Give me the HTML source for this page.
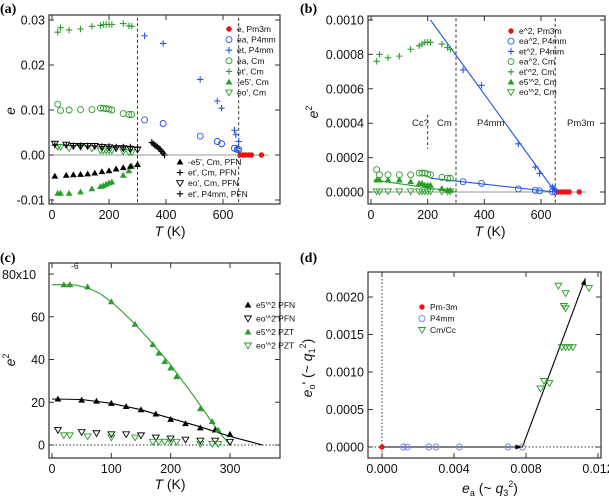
<!DOCTYPE html>
<html><head><meta charset="utf-8">
<style>
body{margin:0;background:#fff;}
svg{display:block;font-family:"Liberation Sans",sans-serif;}
.pl{font-family:"Liberation Serif",serif;font-weight:bold;font-size:14px;}
</style></head>
<body>
<svg id="s" width="609" height="500" viewBox="0 0 609 500"></svg>
<script>
// ---------- Panel (a) data ----------
const aPm3mT=[660,670,680,690,700,735], aPm3mV=[0,0,0,0,0,0];
const aEaP4T=[325,390,520,580,595,640,650,655], aEaP4V=[0.0078,0.007,0.0042,0.003,0.0025,0.0015,0.0012,0.0012];
const aEtP4T=[325,390,520,580,595,640,645,655,650], aEtP4V=[0.0265,0.0248,0.0168,0.012,0.0104,0.0055,0.0045,0.003,0.0015];
const cmT=[20,30,60,100,140,170,180,190,200,210,250,270,280];
const aEaCmV=[0.0113,0.0099,0.01,0.0101,0.0101,0.0104,0.0104,0.0103,0.0102,0.01,0.0092,0.009,0.009];
const aEtCmV=[0.0273,0.0283,0.0278,0.028,0.0286,0.0288,0.029,0.029,0.029,0.029,0.0292,0.0287,0.0286];
const aE5CmV=[-0.0085,-0.0085,-0.0085,-0.0082,-0.0075,-0.007,-0.0068,-0.0065,-0.0062,-0.006,-0.0045,-0.0035,-0.0025];
const aEoCmV=[0.0018,0.0018,0.0015,0.0018,0.0015,0.001,0.001,0.001,0.001,0.001,0.0008,0.0006,0.0006];
const pfnT=[10,50,75,100,125,150,175,200,225,250,275,300];
const aE5PfnV=[-0.0047,-0.0045,-0.0044,-0.0043,-0.0042,-0.004,-0.0037,-0.0035,-0.0031,-0.0028,-0.0025,-0.0021];
const aEoPfnV=[0.0025,0.0023,0.002,0.002,0.002,0.002,0.0018,0.0017,0.0015,0.0015,0.0014,0.0012];
const aEtPfnV=[0.0022,0.0022,0.0021,0.0021,0.002,0.002,0.0019,0.0019,0.0018,0.0018,0.0018,0.0017];
const aEtP4PfnT=[350,355,360,365,370,375,380,385,390,395], aEtP4PfnV=[0.0028,0.0025,0.0022,0.002,0.0018,0.0015,0.0012,0.0008,0.0004,0];
// ---------- Panel (b) data ----------
const bEaP4T=[325,390,520,580,595,640,650], bEaP4V=[0.00006,0.00005,0.000018,0.00001,0.000007,0.000002,0.0000015];
const bEtP4T=[325,390,520,580,595,640,645,650], bEtP4V=[0.00071,0.00062,0.00028,0.000145,0.000108,0.00003,0.00002,0.00001];
const bEaCmV=[0.00013,0.0001,0.0001,0.0001,0.0001,0.00011,0.00011,0.00011,0.000105,0.0001,0.000085,0.00008,0.00008];
const bEtCmV=[0.00076,0.0008,0.00078,0.00079,0.00083,0.00085,0.00086,0.00087,0.00087,0.00087,0.00086,0.00084,0.00083];
const bE5CmV=[0.00007,0.00007,0.00007,0.00007,0.00006,0.00005,0.00005,0.00004,0.00004,0.00004,0.00002,0.00001,0.00001];
const bEoCmV=[0.000003,0.000003,0.000003,0.000003,0.000003,0.000003,0.000003,0.000003,0.000003,0.000003,0.000003,0.000003,0.000003];
const bFitEtT=[210,650], bFitEtV=[0.001,0];
const bFitEaT=[210,650], bFitEaV=[0.00008,0];
const bFitE5T=[10,300], bFitE5V=[0.00007,0];
// ---------- Panel (c) data (x1e-6) ----------
const cPztT=[20,30,60,100,140,170,180,190,200,210,250,270,280];
const cE5PztV=[75,75,74,67,56.5,47,43,39,36,32,17,11,7];
const cEoPztV=[4.5,4.5,4,3.5,3.5,1.5,1.5,1.5,1.5,1.5,0.5,0.5,0.5];
const cPfnT=[10,50,75,100,125,150,175,200,225,250,275,300];
const cE5PfnV=[21.5,21,20.5,19.5,18,16.5,14.5,12,10,8,7,5];
const cEoPfnV=[7,6,5.5,5,5,4.5,3.5,3,2.5,2,2,1.5];
const cFitPztT=[0,20,40,60,80,100,120,140,160,180,200,220,240,260,280,300];
const cFitPztV=[75,75,74.8,73.5,71,67,62,56.5,50.5,44,37.5,30,22.5,14.5,6.5,0];
const cFitPfnT=[0,50,100,150,200,250,300,355];
const cFitPfnV=[21.5,21.3,19.5,16.5,12.5,8.5,4,0];
// ---------- Panel (d) data ----------
const dPmX=[0], dPmY=[0];
const dP4X=[0.0012,0.0014,0.0026,0.003,0.0043,0.007,0.0078], dP4Y=[0,0,0,0,0,0,0];
const dCmX=[0.0098,0.0102,0.0101,0.0102,0.01,0.0102,0.0104,0.0106,0.009,0.0088,0.0093,0.0115];
const dCmY=[0.00215,0.00205,0.00188,0.00185,0.00133,0.00133,0.00133,0.00133,0.00088,0.00078,0.00085,0.00212];
const dArrowX=[0,0.0078,0.0113], dArrowY=[0,0,0.00225];

const S=document.getElementById('s');
const NS='http://www.w3.org/2000/svg';
function el(tag,at,parent){const e=document.createElementNS(NS,tag);for(const k in at)e.setAttribute(k,at[k]);(parent||S).appendChild(e);return e;}
function txt(x,y,s,at,parent){const e=el('text',Object.assign({x:x,y:y},at),parent);e.textContent=s;return e;}
function mk(g,type,x,y,c){
  let e;
  if(type==='fc')e=el('circle',{cx:x,cy:y,r:2.7,fill:c},g);
  else if(type==='oc')e=el('circle',{cx:x,cy:y,r:3,fill:'none',stroke:c,'stroke-width':0.9},g);
  else if(type==='pl')e=el('path',{d:`M${x-3.2},${y}h6.4M${x},${y-3.2}v6.4`,stroke:c,'stroke-width':1.1},g);
  else if(type==='tu')e=el('path',{d:`M${x},${y-3.4}L${x+3.4},${y+2.5}L${x-3.4},${y+2.5}Z`,fill:c},g);
  else e=el('path',{d:`M${x-3.4},${y-2.5}L${x+3.4},${y-2.5}L${x},${y+3.2}Z`,fill:'none',stroke:c,'stroke-width':0.9},g);
  return e;
}
function panel(P){
  const g=el('g',{});
  
  
  const X=v=>P.x0+(v-P.xa)*(P.x1-P.x0)/(P.xb-P.xa);
  const Y=v=>P.y0+(v-P.ya)*(P.y1-P.y0)/(P.yb-P.ya);
  P.X=X;P.Y=Y;
  const L=P.box[0],T=P.box[1],R=P.box[2],B=P.box[3];
  (P.guides||[]).forEach(f=>f(g,X,Y));
  P.xt.forEach((v,i)=>{const x=X(v);
    el('path',{d:`M${x},${B}v-5M${x},${T}v5`,stroke:'#333','stroke-width':1},g);
    const t=txt(x,B+15,P.xl[i],{'text-anchor':'middle','font-size':12.5,fill:'#111'},g);
    });
  P.yt.forEach((v,i)=>{const y=Y(v);
    el('path',{d:`M${L},${y}h5M${R},${y}h-5`,stroke:'#333','stroke-width':1},g);
    const t=txt(L-4,y+4.5,P.yl[i],{'text-anchor':'end','font-size':12.5,fill:'#111'},g);
    });
  (P.lines||[]).forEach(l=>{
    const d=l.x.map((v,i)=>(i?'L':'M')+X(v).toFixed(1)+','+Y(l.y[i]).toFixed(1)).join('');
    const p=el('path',{d:d,fill:'none',stroke:l.c,'stroke-width':1.1},g);
    
  });
  P.series.forEach(s=>{
    const sg=el('g',{},g);
    
    s.x.forEach((v,i)=>mk(sg,s.t,X(v),Y(s.y[i]),s.c));
  });
  const fr=el('rect',{x:L,y:T,width:R-L,height:B-T,fill:'none',stroke:'#333','stroke-width':1.2},g);
  
  (P.legends||[]).forEach(lg=>{
    lg.items.forEach((it,i)=>{
      const y=lg.y+i*lg.dy;
      const lgg=el('g',{},g);
      
      mk(lgg,it[0],lg.x,y,it[1]);
      txt(lg.x+8,y+3,it[2],{'font-size':lg.fs||8.5,fill:'#111'},lgg);
    });
  });
  return P;
}
function vdash(x,y1,y2){return (g,X,Y)=>el('path',{d:`M${X(x)},${Y(y1)}V${Y(y2)}`,stroke:'#333','stroke-width':1,'stroke-dasharray':'3,2.5'},g);}
function hline(y,x1,x2,st){return (g,X,Y)=>el('path',{d:`M${X(x1)},${Y(y)}H${X(x2)}`,stroke:st?'#333':'#999','stroke-width':1,'stroke-dasharray':st?'1.5,2':'none'},g);}
const G='#2a9d2a',BL='#2255ee',RD='#ee1111',BK='#000';

panel({name:'panel-a',box:[49,15,280,204],x0:52,x1:223,xa:0,xb:600,y0:155,y1:20,ya:0,yb:0.03,
 xt:[0,200,400,600],xl:['0','200','400','600'],
 yt:[-0.01,0,0.01,0.02,0.03],yl:['-0.01','0.00','0.01','0.02','0.03'],
 guides:[hline(0,-10,760),vdash(300,0.0305,-0.0109),vdash(655,0.0305,-0.0109)],
 series:[
  {n:'e-pm3m',t:'fc',c:RD,x:aPm3mT,y:aPm3mV},
  {n:'ea-p4mm',t:'oc',c:BL,x:aEaP4T,y:aEaP4V},
  {n:'et-p4mm',t:'pl',c:BL,x:aEtP4T,y:aEtP4V},
  {n:'ea-cm',t:'oc',c:G,x:cmT,y:aEaCmV},
  {n:'et-cm',t:'pl',c:G,x:cmT,y:aEtCmV},
  {n:'e5-cm',t:'tu',c:G,x:cmT,y:aE5CmV},
  {n:'eo-cm',t:'td',c:G,x:cmT,y:aEoCmV},
  {n:'e5-pfn',t:'tu',c:BK,x:pfnT,y:aE5PfnV},
  {n:'eo-pfn',t:'td',c:BK,x:pfnT,y:aEoPfnV},
  {n:'et-pfn',t:'pl',c:BK,x:pfnT,y:aEtPfnV},
  {n:'et-p4mm-pfn',t:'pl',c:BK,x:aEtP4PfnT,y:aEtP4PfnV}],
 legends:[{x:229,y:29,dy:10.6,items:[['fc',RD,'e, Pm3m'],['oc',BL,'ea, P4mm'],['pl',BL,'et, P4mm'],['oc',G,'ea, Cm'],['pl',G,'et\', Cm'],['tu',G,'-e5\', Cm'],['td',G,'eo\', Cm']]},
   {x:180,y:162,dy:10.6,items:[['tu',BK,'-e5\', Cm, PFN'],['pl',BK,'et\', Cm, PFN'],['td',BK,'eo\', Cm, PFN'],['pl',BK,'et\', P4mm, PFN']]}]
});
panel({name:'panel-b',box:[368,16,605,204],x0:371,x1:541,xa:0,xb:600,y0:192,y1:20,ya:0,yb:0.001,
 xt:[0,200,400,600],xl:['0','200','400','600'],
 yt:[0,0.0002,0.0004,0.0006,0.0008,0.001],yl:['0.0000','0.0002','0.0004','0.0006','0.0008','0.0010'],
 guides:[hline(0,-10,760),vdash(300,0.00101,-0.000068),vdash(650,0.00101,-0.000068),vdash(200,0.00045,0.00025)],
 lines:[{c:BL,x:bFitEtT,y:bFitEtV},{c:BL,x:bFitEaT,y:bFitEaV},{c:G,x:bFitE5T,y:bFitE5V}],
 series:[
  {n:'e2-pm3m',t:'fc',c:RD,x:aPm3mT,y:aPm3mV},
  {n:'ea2-p4mm',t:'oc',c:BL,x:bEaP4T,y:bEaP4V},
  {n:'et2-p4mm',t:'pl',c:BL,x:bEtP4T,y:bEtP4V},
  {n:'ea2-cm',t:'oc',c:G,x:cmT,y:bEaCmV},
  {n:'et2-cm',t:'pl',c:G,x:cmT,y:bEtCmV},
  {n:'e52-cm',t:'tu',c:G,x:cmT,y:bE5CmV},
  {n:'eo2-cm',t:'td',c:G,x:cmT,y:bEoCmV}],
 legends:[{x:511,y:31,dy:10.2,items:[['fc',RD,'e^2, Pm3m'],['oc',BL,'ea^2, P4mm'],['pl',BL,'et^2, P4mm'],['oc',G,'ea^2, Cm'],['pl',G,'et\'^2, Cm'],['tu',G,'e5\'^2, Cm'],['td',G,'eo\'^2, Cm']]}]
});
[['Cc?',412],['Cm',437],['P4mm',477],['Pm3m',567]].forEach(a=>{const t=txt(a[1],126,a[0],{'font-size':9.5,fill:'#222'});});
panel({name:'panel-c',box:[49,263,280,458],x0:52,x1:230,xa:0,xb:300,y0:445,y1:274,ya:0,yb:80,
 xt:[0,100,200,300],xl:['0','100','200','300'],
 yt:[0,20,40,60,80],yl:['0','20','40','60',''],
 guides:[hline(0,0,380,true)],
 lines:[{c:G,x:cFitPztT,y:cFitPztV},{c:BK,x:cFitPfnT,y:cFitPfnV}],
 series:[
  {n:'e52-pfn',t:'tu',c:BK,x:cPfnT,y:cE5PfnV},
  {n:'eo2-pfn',t:'td',c:BK,x:cPfnT,y:cEoPfnV},
  {n:'e52-pzt',t:'tu',c:G,x:cPztT,y:cE5PztV},
  {n:'eo2-pzt',t:'td',c:G,x:cPztT,y:cEoPztV}],
 legends:[{x:248,y:305,dy:13.5,items:[['tu',BK,'e5\'^2 PFN'],['td',BK,'eo\'^2 PFN'],['tu',G,'e5\'^2 PZT'],['td',G,'eo\'^2 PZT']]}]
});
{const t=txt(2,279,'80x10',{'font-size':12.5,fill:'#111'});
 const u=txt(71,269,'-6',{'font-size':8.5,fill:'#111'});}
const PD=panel({name:'panel-d',box:[368,272,601,458],x0:382,x1:598,xa:0,xb:0.012,y0:447,y1:297,ya:0,yb:0.002,
 xt:[0,0.004,0.008,0.012],xl:['0.000','0.004','0.008','0.012'],
 yt:[0,0.0005,0.001,0.0015,0.002],yl:['0.0000','0.0005','0.0010','0.0015','0.0020'],
 guides:[hline(0,-0.0008,0.0122,true),(g,X,Y)=>el('path',{d:`M${X(0)},272V458`,stroke:'#333','stroke-dasharray':'1.5,2'},g)],
 lines:[{c:BK,x:dArrowX,y:dArrowY}],
 series:[
  {n:'pm-3m',t:'fc',c:RD,x:dPmX,y:dPmY},
  {n:'p4mm',t:'oc',c:'#7788ee',x:dP4X,y:dP4Y},
  {n:'cm-cc',t:'td',c:G,x:dCmX,y:dCmY}],
 legends:[{x:422,y:307,dy:11.5,items:[['fc',RD,'Pm-3m'],['oc','#7788ee','P4mm'],['td',G,'Cm/Cc']]}]
});
(function(){
 const ax=PD.X(dArrowX[1]),ay=PD.Y(0);
 el('path',{d:`M${ax},${ay}l-7,-2.5v5Z`,fill:'#000'});
 const bx=PD.X(dArrowX[2]),by=PD.Y(dArrowY[2]);
 el('path',{d:`M${bx},${by}l-4.5,6l5,1.2Z`,fill:'#000'});
})();
[['(a)',0,13],['(b)',300,13],['(c)',0,262],['(d)',300,262]].forEach(a=>{const t=txt(a[1],a[2],a[0],{'class':'pl'});});
function tt(x,y,html,rot,name){const t=el('text',{x:x,y:y,'font-size':14,fill:'#111','text-anchor':'middle',transform:rot?`rotate(-90 ${x} ${y})`:''});t.innerHTML=html;}
tt(15,111,'<tspan font-style="italic">e</tspan>',true,'y-axis-title-a');
tt(170,236,'<tspan font-style="italic">T</tspan>  (K)',false,'x-axis-title-a');
tt(318,112,'<tspan font-style="italic">e</tspan><tspan font-size="9" dy="-6">2</tspan>',true,'y-axis-title-b');
tt(490,236,'<tspan font-style="italic">T</tspan>  (K)',false,'x-axis-title-b');
tt(15,360,'<tspan font-style="italic">e</tspan><tspan font-size="9" dy="-6">2</tspan>',true,'y-axis-title-c');
tt(170,489,'<tspan font-style="italic">T</tspan>  (K)',false,'x-axis-title-c');
tt(312,368,'<tspan font-style="italic">e</tspan><tspan font-size="9" dy="3">o</tspan><tspan dy="-3">\'  (~ </tspan><tspan font-style="italic">q</tspan><tspan font-size="9" dy="3">1</tspan><tspan font-size="9" dy="-9">2</tspan><tspan dy="6">)</tspan>',true,'y-axis-title-d');
tt(490,493,'<tspan font-style="italic">e</tspan><tspan font-size="9" dy="3">a</tspan><tspan dy="-3">   (~ </tspan><tspan font-style="italic">q</tspan><tspan font-size="9" dy="3">3</tspan><tspan font-size="9" dy="-9">2</tspan><tspan dy="6">)</tspan>',false,'x-axis-title-d');
</script>
</body></html>
